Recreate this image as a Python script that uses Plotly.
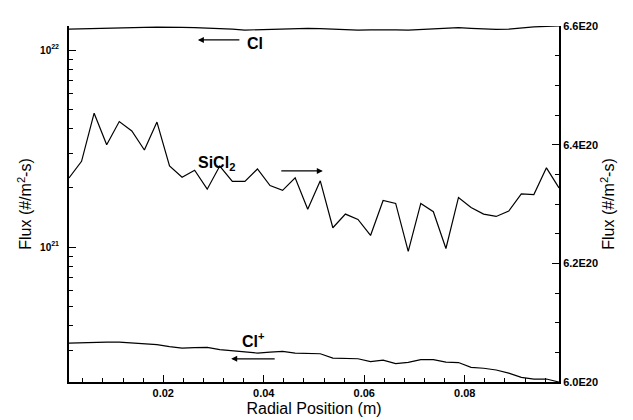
import plotly.graph_objects as go

# radial positions (cell centres, m)
radial_pos = [0.00125 + 0.0025 * i for i in range(40)]

# Cl flux (left, log axis)
cl_flux = [1.278e22, 1.284e22, 1.288e22, 1.293e22, 1.297e22, 1.299e22, 1.303e22, 1.306e22,
           1.308e22, 1.303e22, 1.299e22, 1.293e22, 1.288e22, 1.276e22, 1.263e22, 1.269e22,
           1.276e22, 1.281e22, 1.284e22, 1.288e22, 1.284e22, 1.276e22, 1.270e22, 1.263e22,
           1.266e22, 1.269e22, 1.266e22, 1.263e22, 1.270e22, 1.278e22, 1.288e22, 1.299e22,
           1.288e22, 1.278e22, 1.273e22, 1.276e22, 1.296e22, 1.311e22, 1.319e22, 1.327e22]

# Cl+ flux (left, log axis)
clp_flux = [3.262e20, 3.281e20, 3.300e20, 3.300e20, 3.300e20, 3.262e20, 3.236e20, 3.205e20,
            3.131e20, 3.077e20, 3.095e20, 3.100e20, 3.024e20, 2.978e20, 2.930e20, 2.902e20,
            2.936e20, 2.961e20, 2.902e20, 2.902e20, 2.879e20, 2.738e20, 2.728e20, 2.716e20,
            2.629e20, 2.675e20, 2.568e20, 2.604e20, 2.691e20, 2.691e20, 2.613e20, 2.598e20,
            2.457e20, 2.431e20, 2.381e20, 2.298e20, 2.185e20, 2.143e20, 2.143e20, 2.070e20]

# SiCl2 flux (right, linear axis)
sicl2_flux = [6.344e20, 6.372e20, 6.453e20, 6.400e20, 6.439e20, 6.423e20, 6.391e20, 6.438e20,
              6.364e20, 6.345e20, 6.357e20, 6.325e20, 6.364e20, 6.338e20, 6.338e20, 6.359e20,
              6.331e20, 6.323e20, 6.344e20, 6.291e20, 6.339e20, 6.260e20, 6.283e20, 6.274e20,
              6.247e20, 6.306e20, 6.301e20, 6.220e20, 6.301e20, 6.287e20, 6.225e20, 6.311e20,
              6.294e20, 6.283e20, 6.279e20, 6.288e20, 6.317e20, 6.316e20, 6.361e20, 6.327e20]

x_ticks = [0.02, 0.04, 0.06, 0.08]
x_ticktext = ["0.02", "0.04", "0.06", "0.08"]
left_ticks = [1e21, 1e22]
left_ticktext = ["10<sup>21</sup>", "10<sup>22</sup>"]
left_minor = [m * 1e20 for m in range(2, 10)] + [m * 1e21 for m in range(2, 10)]
right_ticks = [6.0e20, 6.2e20, 6.4e20, 6.6e20]
right_ticktext = ["6.0E20", "6.2E20", "6.4E20", "6.6E20"]

FONT = "Liberation Sans, Arial, sans-serif"
line_style = dict(color="black", width=1.2)

fig = go.Figure()
fig.add_trace(go.Scatter(x=radial_pos, y=cl_flux, mode="lines", line=line_style,
                         yaxis="y", showlegend=False, cliponaxis=False))
fig.add_trace(go.Scatter(x=radial_pos, y=clp_flux, mode="lines", line=line_style,
                         yaxis="y", showlegend=False, cliponaxis=False))
fig.add_trace(go.Scatter(x=radial_pos, y=sicl2_flux, mode="lines", line=line_style,
                         yaxis="y2", showlegend=False))

fig.update_layout(
    width=633, height=420,
    margin=dict(l=61, r=82, t=18, b=46),
    paper_bgcolor="white", plot_bgcolor="white",
    font=dict(family=FONT, color="black"),
    xaxis=dict(
        range=[0.00125, 0.09875], showgrid=False, zeroline=False,
        showline=True, linecolor="black", linewidth=2,
        ticks="inside", ticklen=7, tickwidth=1.2, tickcolor="black",
        tickvals=x_ticks, ticktext=x_ticktext,
        tickfont=dict(size=11, weight="bold", family=FONT),
        minor=dict(ticks="inside", ticklen=4, tickwidth=1, tickcolor="black", dtick=0.004, tick0=0),
        title=dict(text="Radial Position (m)", font=dict(size=16, family=FONT), standoff=5),
    ),
    yaxis=dict(
        type="log", range=[20.316, 22.122], showgrid=False, zeroline=False,
        showline=True, linecolor="black", linewidth=2,
        ticks="inside", ticklen=7, tickwidth=1.2, tickcolor="black",
        tickvals=left_ticks, ticktext=left_ticktext,
        tickfont=dict(size=10, weight="bold", family=FONT), ticklabelstandoff=6,
        minor=dict(ticks="inside", ticklen=4, tickwidth=1, tickcolor="black", tickvals=left_minor),
        title=dict(text="Flux (#/m<sup>2</sup>-s)", font=dict(size=16, family=FONT), standoff=4),
    ),
    yaxis2=dict(
        overlaying="y", side="right", range=[6.0e20, 6.6e20],
        showgrid=False, zeroline=False,
        showline=True, linecolor="black", linewidth=2,
        ticks="inside", ticklen=7, tickwidth=1.2, tickcolor="black",
        tickvals=right_ticks, ticktext=right_ticktext,
        tickfont=dict(size=11, weight="bold", family=FONT),
        minor=dict(ticks="inside", ticklen=4, tickwidth=1, tickcolor="black", dtick=0.05e20, tick0=6.0e20),
        title=dict(text="Flux (#/m<sup>2</sup>-s)", font=dict(size=16, family=FONT), standoff=6),
    ),
)

label_font = dict(size=16, weight="bold", family=FONT, color="black")
annotations = [
    dict(text="Cl", x=0.380, y=0.952, xref="paper", yref="paper", showarrow=False,
         xanchor="center", yanchor="middle", font=label_font),
    dict(text="SiCl<sub>2</sub>", x=0.302, y=0.615, xref="paper", yref="paper", showarrow=False,
         xanchor="center", yanchor="middle", font=label_font),
    dict(text="Cl<sup>+</sup>", x=0.376, y=0.118, xref="paper", yref="paper", showarrow=False,
         xanchor="center", yanchor="middle", font=label_font),
    # arrows
    dict(text="", x=0.263, y=0.961, xref="paper", yref="paper", showarrow=True,
         ax=43, ay=0, arrowhead=2, arrowsize=1, arrowwidth=1.2, arrowcolor="black"),
    dict(text="", x=0.518, y=0.593, xref="paper", yref="paper", showarrow=True,
         ax=-43, ay=0, arrowhead=2, arrowsize=1, arrowwidth=1.2, arrowcolor="black"),
    dict(text="", x=0.331, y=0.065, xref="paper", yref="paper", showarrow=True,
         ax=45, ay=0, arrowhead=2, arrowsize=1, arrowwidth=1.2, arrowcolor="black"),
]
fig.update_layout(annotations=annotations)

fig.write_html("out.html")
